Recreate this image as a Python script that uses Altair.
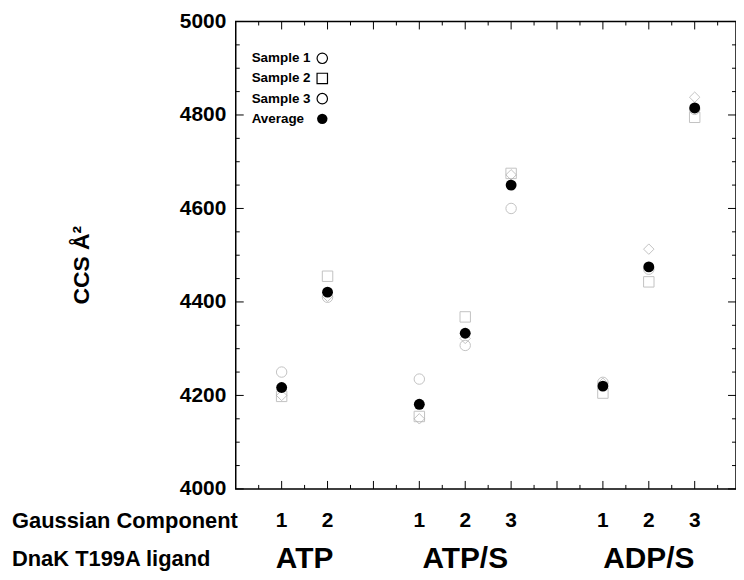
import altair as alt
import pandas as pd

# ---- data ----
positions = [1, 2, 4, 5, 6, 8, 9, 10]
component_labels = ["1", "2", "1", "2", "3", "1", "2", "3"]
ligands = ["ATP", "ATP/S", "ADP/S"]
ligand_centers = [1.5, 5, 9]

sample1 = [4250, 4410, 4235, 4307, 4600, 4228, 4470, 4812]   # circles
sample2 = [4198, 4455, 4155, 4368, 4675, 4205, 4443, 4795]   # squares
sample3 = [4200, 4412, 4150, 4322, 4672, 4226, 4513, 4838]   # diamonds
average = [4217, 4421, 4181, 4333, 4650, 4220, 4475, 4815]

y_major = [4000, 4200, 4400, 4600, 4800, 5000]
y_minor = [4050, 4100, 4150, 4250, 4300, 4350, 4450, 4500, 4550,
           4650, 4700, 4750, 4850, 4900, 4950]
x_major = [1, 2, 3, 4, 5, 6, 7, 8, 9, 10]
x_minor = [0.5, 1.5, 2.5, 3.5, 4.5, 5.5, 6.5, 7.5, 8.5, 9.5, 10.5]

legend_labels = ["Sample 1", "Sample 2", "Sample 3", "Average"]

# ---- layout / style ----
W, H = 503, 470
FONT = "Liberation Sans"
GRAY = "#a9a9a9"

xs = alt.Scale(domain=[0, 10.9], nice=False, zero=False)
ys = alt.Scale(domain=[4000, 5000], nice=False, zero=False)

samples = pd.DataFrame({
    "x": positions * 3,
    "y": sample1 + sample2 + sample3,
    "sample": ["Sample 1"] * 8 + ["Sample 2"] * 8 + ["Sample 3"] * 8,
})
avg_df = pd.DataFrame({"x": positions, "y": average})
comp_df = pd.DataFrame({"x": positions, "label": component_labels})
lig_df = pd.DataFrame({"x": ligand_centers, "label": ligands})
one = pd.DataFrame({"k": [0]})

yaxis = alt.Axis(values=y_major, format="d", labelFontSize=21, labelFontWeight="bold",
                 labelFont=FONT, labelColor="black", labelPadding=10, ticks=False,
                 domain=False, grid=False, title=None)

pts = alt.Chart(samples).mark_point(filled=False, size=110, strokeWidth=1, color=GRAY).encode(
    x=alt.X("x:Q", scale=xs, axis=None),
    y=alt.Y("y:Q", scale=ys, axis=yaxis),
    shape=alt.Shape("sample:N", scale=alt.Scale(domain=["Sample 1", "Sample 2", "Sample 3"],
                                                range=["circle", "square", "diamond"]), legend=None),
)

avg = alt.Chart(avg_df).mark_point(filled=True, size=120, color="black", shape="circle", opacity=1).encode(
    x=alt.X("x:Q", scale=xs),
    y=alt.Y("y:Q", scale=ys),
)

layers = [pts, avg]

def yticks(vals, length):
    df = pd.DataFrame({"v": vals})
    left = alt.Chart(df).mark_rule(color="black", strokeWidth=1).encode(
        y=alt.Y("v:Q", scale=ys), x=alt.value(0), x2=alt.value(length))
    right = alt.Chart(df).mark_rule(color="black", strokeWidth=1).encode(
        y=alt.Y("v:Q", scale=ys), x=alt.value(W), x2=alt.value(W - length))
    return [left, right]

def xticks(vals, length):
    df = pd.DataFrame({"v": vals})
    bottom = alt.Chart(df).mark_rule(color="black", strokeWidth=1).encode(
        x=alt.X("v:Q", scale=xs), y=alt.value(H), y2=alt.value(H - length))
    top = alt.Chart(df).mark_rule(color="black", strokeWidth=1).encode(
        x=alt.X("v:Q", scale=xs), y=alt.value(0), y2=alt.value(length))
    return [bottom, top]

layers += yticks(y_major, 8) + yticks(y_minor, 4) + xticks(x_major, 8) + xticks(x_minor, 4)

comp = alt.Chart(comp_df).mark_text(font=FONT, fontSize=21, fontWeight="bold", color="black",
                                    baseline="middle").encode(
    x=alt.X("x:Q", scale=xs), y=alt.value(H + 32), text="label:N")
lig = alt.Chart(lig_df).mark_text(font=FONT, fontSize=30, fontWeight="bold", color="black",
                                  baseline="middle").encode(
    x=alt.X("x:Q", scale=xs), y=alt.value(H + 71), text="label:N")
row1 = alt.Chart(one).mark_text(font=FONT, fontSize=22, fontWeight="bold", color="black",
                                align="left", baseline="middle").encode(
    x=alt.value(-225), y=alt.value(H + 32), text=alt.value("Gaussian Component"))
row2 = alt.Chart(one).mark_text(font=FONT, fontSize=22, fontWeight="bold", color="black",
                                align="left", baseline="middle").encode(
    x=alt.value(-225), y=alt.value(H + 70), text=alt.value("DnaK T199A ligand"))
ytitle = alt.Chart(one).mark_text(font=FONT, fontSize=23, fontWeight="bold", color="black",
                                  angle=270, baseline="middle").encode(
    x=alt.value(-155), y=alt.value(245), text=alt.value("CCS Å²"))

layers += [comp, lig, row1, row2, ytitle]

legend_shapes = ["circle", "square", "circle", "circle"]
legend_filled = [False, False, False, True]
for i, lab in enumerate(legend_labels):
    yy = 37 + 20.3 * i
    layers.append(alt.Chart(one).mark_text(font=FONT, fontSize=13.5, fontWeight="bold", color="black",
                                           align="left", baseline="middle").encode(
        x=alt.value(16), y=alt.value(yy), text=alt.value(lab)))
    layers.append(alt.Chart(one).mark_point(shape=legend_shapes[i], filled=legend_filled[i],
                                            size=110, strokeWidth=1.2, color="black", opacity=1).encode(
        x=alt.value(87), y=alt.value(yy)))

chart = alt.layer(*layers).properties(
    width=W, height=H,
    padding={"left": 229, "top": 12, "right": 0, "bottom": 88},
    autosize=alt.AutoSizeParams(type="none"),
).configure_view(stroke="black", strokeWidth=1.5)

chart.save("out.html", embed_options={"renderer": "svg", "actions": False})
